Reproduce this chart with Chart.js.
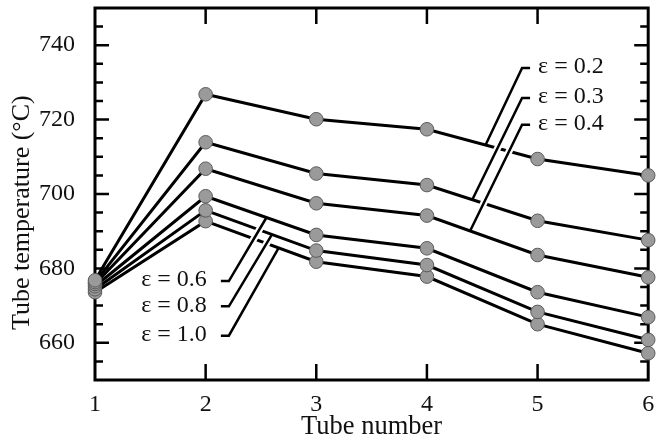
<!DOCTYPE html>
<html lang="en">
<head>
  <meta charset="UTF-8">
  <title>Tube temperature vs tube number</title>
  <script src="https://cdn.jsdelivr.net/npm/chart.js"></script>
  <style>
    body { margin: 0; background: #fff; }
    canvas { display: block; }
  </style>
</head>
<body>
  <canvas id="tubeChart" width="656" height="443"></canvas>

  <script>
    // tube positions along the x axis
    const tubeNumbers = [1, 2, 3, 4, 5, 6];

    // tube temperature (deg C) for each emissivity
    const eps02 = [676.8, 726.8, 720.1, 717.4, 709.4, 705.0];
    const eps03 = [676.3, 713.9, 705.5, 702.4, 692.8, 687.6];
    const eps04 = [675.8, 706.8, 697.5, 694.2, 683.6, 677.6];
    const eps06 = [675.2, 699.4, 689.0, 685.4, 673.6, 666.9];
    const eps08 = [674.4, 695.6, 684.8, 680.9, 668.3, 660.8];
    const eps10 = [673.6, 692.7, 681.8, 677.8, 665.0, 657.2];

    const seriesLabels = ['ε = 0.2', 'ε = 0.3', 'ε = 0.4', 'ε = 0.6', 'ε = 0.8', 'ε = 1.0'];
    const seriesValues = [eps02, eps03, eps04, eps06, eps08, eps10];

    // y tick labels that carry text (minor ticks every 5)
    const yTickLabels = [660, 680, 700, 720, 740];

    // leader lines for the labels, in data units
    const leaderTouchX = [4.53, 4.41, 4.39, 2.55, 2.60, 2.66];
    const leaderElbowX = [4.86, 4.86, 4.86, 2.21, 2.21, 2.21];
    const leaderElbowY = [733.9, 725.8, 718.6, 676.6, 669.8, 661.9];
    const leaderSide = ['right', 'right', 'right', 'left', 'left', 'left'];

    const serif = '"Liberation Serif", "DejaVu Serif", serif';

    // value of a series at a fractional tube position
    function valueAt(values, x) {
      const i = Math.min(Math.floor(x) - 1, values.length - 2);
      const t = x - (i + 1);
      return values[i] + t * (values[i + 1] - values[i]);
    }

    // frame + inward ticks + y title, drawn under the data
    const framePlugin = {
      id: 'frame',
      beforeDatasetsDraw(chart) {
        const { ctx, chartArea: a, scales: { x, y } } = chart;
        ctx.save();
        ctx.strokeStyle = '#000';
        ctx.lineWidth = 3;
        ctx.strokeRect(a.left, a.top, a.right - a.left, a.bottom - a.top);
        ctx.lineWidth = 2.5;
        ctx.beginPath();
        for (let v = 655; v < 750; v += 5) {
          const py = y.getPixelForValue(v);
          const len = yTickLabels.includes(v) ? 14 : 8;
          ctx.moveTo(a.left, py); ctx.lineTo(a.left + len, py);
          ctx.moveTo(a.right, py); ctx.lineTo(a.right - len, py);
        }
        for (let t = 2; t <= 5; t++) {
          const px = x.getPixelForValue(t);
          ctx.moveTo(px, a.bottom); ctx.lineTo(px, a.bottom - 16);
          ctx.moveTo(px, a.top); ctx.lineTo(px, a.top + 16);
        }
        ctx.stroke();

        // y axis title, sitting a little below the axis middle as in the original
        ctx.translate(22, y.getPixelForValue(695));
        ctx.rotate(-Math.PI / 2);
        ctx.font = '26px ' + serif;
        ctx.fillStyle = '#111';
        ctx.textAlign = 'center';
        ctx.textBaseline = 'middle';
        ctx.fillText('Tube temperature (°C)', 0, 0);
        ctx.restore();
      }
    };

    // leader lines and series labels
    const labelPlugin = {
      id: 'seriesLabels',
      afterDatasetsDraw(chart) {
        const { ctx, scales: { x, y } } = chart;
        ctx.save();
        ctx.font = '24px ' + serif;
        ctx.textBaseline = 'middle';
        seriesLabels.forEach((label, i) => {
          const tx = x.getPixelForValue(leaderTouchX[i]);
          const ty = y.getPixelForValue(valueAt(seriesValues[i], leaderTouchX[i]));
          const ex = x.getPixelForValue(leaderElbowX[i]);
          const ey = y.getPixelForValue(leaderElbowY[i]);
          const dir = leaderSide[i] === 'right' ? 1 : -1;
          const hx = ex + dir * 8;

          // white halo so the leader cuts through other lines
          const len = Math.hypot(ex - tx, ey - ty);
          const sx = tx + (ex - tx) * 7 / len;
          const sy = ty + (ey - ty) * 7 / len;
          ctx.strokeStyle = '#fff';
          ctx.lineWidth = 7;
          ctx.beginPath();
          ctx.moveTo(sx, sy); ctx.lineTo(ex, ey);
          ctx.stroke();

          ctx.strokeStyle = '#000';
          ctx.lineWidth = 2.5;
          ctx.beginPath();
          ctx.moveTo(tx, ty); ctx.lineTo(ex, ey); ctx.lineTo(hx, ey);
          ctx.stroke();

          ctx.fillStyle = '#111';
          ctx.textAlign = dir === 1 ? 'left' : 'right';
          ctx.fillText(label, hx + dir * (dir === 1 ? 8 : 14), ey - 1);
        });
        ctx.restore();
      }
    };

    const datasets = seriesValues.map((vals, i) => ({
      label: seriesLabels[i],
      data: tubeNumbers.map((t, j) => ({ x: t, y: vals[j] })),
      borderColor: '#000',
      borderWidth: 3,
      pointRadius: 6.8,
      pointBackgroundColor: '#9a9a9a',
      pointBorderColor: '#5a5a5a',
      pointBorderWidth: 1,
      tension: 0,
      clip: false
    }));

    new Chart(document.getElementById('tubeChart'), {
      type: 'line',
      data: { datasets },
      plugins: [framePlugin, labelPlugin],
      options: {
        responsive: false,
        devicePixelRatio: 1,
        animation: false,
        layout: { padding: { top: 8, right: 4, left: 0, bottom: 0 } },
        plugins: { legend: { display: false }, tooltip: { enabled: false } },
        scales: {
          x: {
            type: 'linear',
            min: 1,
            max: 6,
            grid: { display: false, drawTicks: false },
            border: { display: false },
            ticks: { stepSize: 1, padding: 10, color: '#111', font: { family: serif, size: 24 } },
            title: { display: true, text: 'Tube number', color: '#111', padding: { top: 0, bottom: 0 }, font: { family: serif, size: 26.5 } },
            afterFit(s) { s.height = 63; s.paddingLeft = 0; s.paddingRight = 0; }
          },
          y: {
            min: 650,
            max: 750,
            grid: { display: false, drawTicks: false },
            border: { display: false },
            ticks: {
              stepSize: 5,
              autoSkip: false,
              padding: 20,
              color: '#111',
              font: { family: serif, size: 24 },
              callback: v => (yTickLabels.includes(v) ? v : '')
            },
            title: { display: false },
            afterFit(s) { s.width = 95; s.paddingTop = 0; s.paddingBottom = 0; }
          }
        }
      }
    });
  </script>
</body>
</html>
